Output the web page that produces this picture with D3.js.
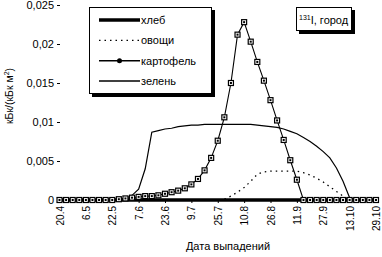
<!DOCTYPE html>
<html>
<head>
  <meta charset="utf-8">
  <title>131I, город</title>
  <script src="https://d3js.org/d3.v7.min.js"></script>
  <style>
    body { margin: 0; background: #fff; }
    text { font-family: "Liberation Sans", Arial, sans-serif; fill: #000; }
  </style>
</head>
<body>

<div id="chart"></div>

<script>
// dates, every 4 days
const dates = [
  "20.4", "24.4", "28.4", "2.5", "6.5", "10.5", "14.5", "18.5", "22.5", "26.5",
  "30.5", "3.6", "7.6", "11.6", "15.6", "19.6", "23.6", "27.6", "1.7", "5.7",
  "9.7", "13.7", "17.7", "21.7", "25.7", "29.7", "2.8", "6.8", "10.8", "14.8",
  "18.8", "22.8", "26.8", "30.8", "3.9", "7.9", "11.9", "15.9", "19.9", "23.9",
  "27.9", "1.10", "5.10", "9.10", "13.10", "17.10", "21.10", "25.10", "29.10"
];
const xLabels = ["20.4", "6.5", "22.5", "7.6", "23.6", "9.7", "25.7", "10.8",
  "26.8", "11.9", "27.9", "13.10", "29.10"];
const yTicks = [0, 0.005, 0.01, 0.015, 0.02, 0.025];

const bread = [
  0, 0, 0, 0, 0, 0, 0, 0, 0, 0,
  0, 0, 0, 0, 0, 0, 0, 0, 0, 0,
  0, 0, 0, 0, 0, 0, 0, 0, 0, 0,
  0, 0, 0, 0, 0, 0, 0, 0, 0, 0,
  0, 0, 0, 0, 0, 0, 0, 0, 0
];
const vegetables = [
  0, 0, 0, 0, 0, 0, 0, 0, 0, 0,
  0, 0, 0, 0, 0, 0, 0, 0, 0, 0,
  0, 0, 0, 0, 0, 0.0001, 0.0005, 0.001, 0.0016, 0.0024,
  0.0033, 0.0036, 0.0037, 0.0037, 0.0037, 0.0037, 0.0037, 0.0035, 0.0032, 0.0028,
  0.0023, 0.0017, 0.0011, 0.0005, 0, 0, 0, 0, 0
];
const potato = [
  0, 0, 0, 0, 0, 0, 0, 0, 0, 0.0001,
  0.0002, 0.0003, 0.0004, 0.0005, 0.0005, 0.0006, 0.0008, 0.001, 0.0012, 0.0015,
  0.002, 0.0027, 0.0038, 0.0054, 0.0076, 0.0106, 0.015, 0.0212, 0.0228, 0.0203,
  0.0177, 0.0153, 0.0128, 0.0102, 0.0077, 0.0051, 0.0026, 0, 0, 0,
  0, 0, 0, 0, 0, 0, 0, 0, 0
];
const greens = [
  0, 0, 0, 0, 0, 0, 0, 0, 0, 0,
  0.0002, 0.0006, 0.0014, 0.004, 0.0087, 0.0089, 0.0091, 0.0092, 0.0094, 0.0095,
  0.0096, 0.0096, 0.0097, 0.0097, 0.0097, 0.0097, 0.0097, 0.0097, 0.0097, 0.0097,
  0.0096, 0.0095, 0.0094, 0.0093, 0.0091, 0.0088, 0.0085, 0.008, 0.0075, 0.0069,
  0.0062, 0.0054, 0.0041, 0.0024, 0.0003, 0, 0, 0, 0
];

const W = 382, H = 257;
const svg = d3.select("#chart").append("svg")
  .attr("width", W)
  .attr("height", H);

const x = d3.scalePoint().domain(dates).range([59.5, 376]);
const y = d3.scaleLinear().domain([0, 0.025]).range([200, 5]);

// y axis
const yAxis = svg.append("g")
  .attr("transform", "translate(60,0)")
  .call(d3.axisLeft(y).tickValues(yTicks).tickSize(3).tickPadding(3)
    .tickFormat(d => d === 0 ? "0" : String(d).replace(".", ",")));
yAxis.select(".domain").remove();
yAxis.selectAll("text").style("font-size", "11px").style("font-family", "Liberation Sans, Arial, sans-serif");

// x axis
const xAxis = svg.append("g")
  .attr("transform", "translate(0,200)")
  .call(d3.axisBottom(x).tickValues(xLabels).tickSize(3).tickPadding(2));
xAxis.select(".domain").remove();
xAxis.selectAll("text")
  .style("font-size", "10px")
  .style("font-family", "Liberation Sans, Arial, sans-serif")
  .attr("transform", "rotate(-90)")
  .attr("text-anchor", "end")
  .attr("x", -6)
  .attr("y", 0)
  .attr("dy", "0.35em");

// axis titles
svg.append("text")
  .attr("x", 228).attr("y", 250)
  .attr("text-anchor", "middle")
  .style("font-size", "11px")
  .text("Дата выпадений");

const yt = svg.append("text")
  .attr("transform", "translate(13,96) rotate(-90)")
  .attr("text-anchor", "middle")
  .style("font-size", "10.5px");
yt.append("tspan").text("кБк/(кБк м");
yt.append("tspan").attr("dy", -4).style("font-size", "7px").text("2");
yt.append("tspan").attr("dy", 4).text(")");

const line = d3.line().x((d, i) => x(dates[i])).y(d => y(d));

// lines
svg.append("path").datum(greens)
  .attr("fill", "none").attr("stroke", "#000").attr("stroke-width", 1.2)
  .attr("d", line);
svg.append("path").datum(vegetables)
  .attr("fill", "none").attr("stroke", "#000").attr("stroke-width", 1.3)
  .attr("stroke-dasharray", "1.5,4")
  .attr("d", line);
svg.append("path").datum(potato)
  .attr("fill", "none").attr("stroke", "#000").attr("stroke-width", 1.1)
  .attr("d", line);
svg.append("path").datum(bread)
  .attr("fill", "none").attr("stroke", "#000").attr("stroke-width", 3.5)
  .attr("d", line);

// potato markers
const mk = svg.append("g").selectAll("g")
  .data(potato).join("g")
  .attr("transform", (d, i) => `translate(${x(dates[i])},${y(d)})`);
mk.append("rect")
  .attr("x", -2.5).attr("y", -2.5).attr("width", 5).attr("height", 5)
  .attr("fill", "#fff").attr("stroke", "#000").attr("stroke-width", 1.2);
mk.append("rect")
  .attr("x", -1).attr("y", -1).attr("width", 2).attr("height", 2)
  .attr("fill", "#000");

// legend
const lg = svg.append("g");
lg.append("rect").attr("x", 92).attr("y", 10).attr("width", 123).attr("height", 87).attr("fill", "#000");
lg.append("rect").attr("x", 89.5).attr("y", 7.5).attr("width", 122).attr("height", 86)
  .attr("fill", "#fff").attr("stroke", "#000").attr("stroke-width", 1);

const legendItems = [
  { name: "хлеб", width: 3.5, dash: null, dot: false },
  { name: "овощи", width: 1.3, dash: "1.5,4", dot: false },
  { name: "картофель", width: 1.5, dash: null, dot: true },
  { name: "зелень", width: 1.5, dash: null, dot: false }
];
const legendY = d3.scalePoint().domain(legendItems.map(d => d.name)).range([20, 81]);
legendItems.forEach(it => {
  const yy = legendY(it.name);
  lg.append("line").attr("x1", 99).attr("x2", 140).attr("y1", yy).attr("y2", yy)
    .attr("stroke", "#000").attr("stroke-width", it.width)
    .attr("stroke-dasharray", it.dash);
  if (it.dot) lg.append("circle").attr("cx", 119.5).attr("cy", yy).attr("r", 2.5).attr("fill", "#000");
  lg.append("text").attr("x", 141).attr("y", yy).attr("dy", "0.35em")
    .style("font-size", "11px").text(it.name);
});

// title box
const tb = svg.append("g");
tb.append("rect").attr("x", 299).attr("y", 10).attr("width", 56).attr("height", 24).attr("fill", "#000");
tb.append("rect").attr("x", 296.5).attr("y", 7.5).attr("width", 55).attr("height", 23)
  .attr("fill", "#fff").attr("stroke", "#000").attr("stroke-width", 1);
const tt = tb.append("text").attr("x", 299).attr("y", 24).style("font-size", "11px");
tt.append("tspan").attr("dy", -4).style("font-size", "7px").text("131");
tt.append("tspan").attr("dy", 4).text("I, город");
</script>

</body>
</html>
